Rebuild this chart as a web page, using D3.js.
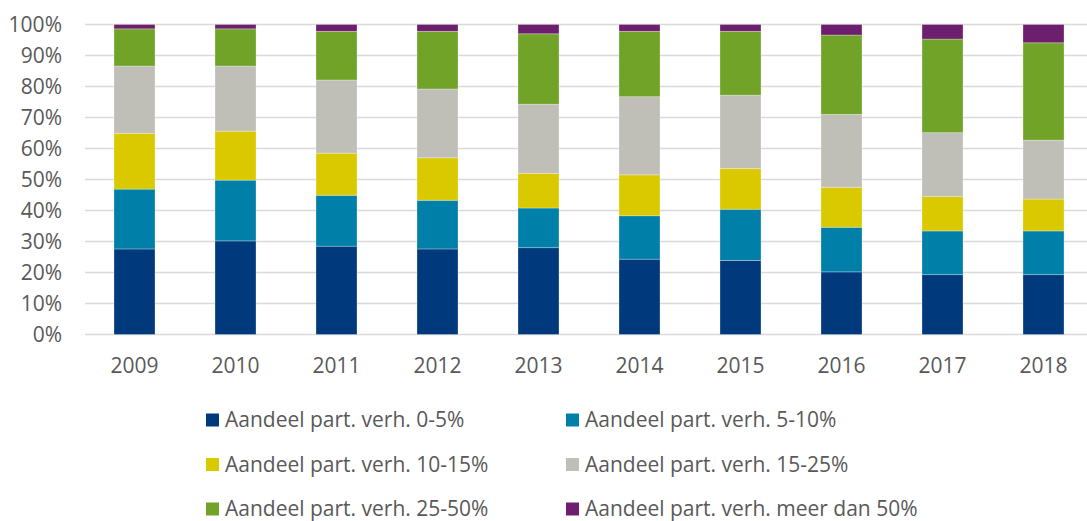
<!DOCTYPE html>
<html>
<head>
<meta charset="utf-8">
<script src="https://cdn.jsdelivr.net/npm/d3@7"></script>
<style>
  body { margin: 0; background: #fff; }
  svg { display: block; font-family: "Open Sans", sans-serif; }
</style>
</head>
<body>
<div id="chart"></div>
<script>
// jaren en reeksen
const years = ["2009", "2010", "2011", "2012", "2013", "2014", "2015", "2016", "2017", "2018"];
const seriesNames = [
  "Aandeel part. verh. 0-5%",
  "Aandeel part. verh. 5-10%",
  "Aandeel part. verh. 10-15%",
  "Aandeel part. verh. 15-25%",
  "Aandeel part. verh. 25-50%",
  "Aandeel part. verh. meer dan 50%"
];
const share0to5   = [27.6, 30.2, 28.5, 27.6, 28.0, 24.3, 23.9, 20.2, 19.3, 19.3];
const share5to10  = [19.3, 19.6, 16.4, 15.7, 12.8, 14.0, 16.5, 14.4, 14.1, 14.1];
const share10to15 = [18.0, 15.8, 13.6, 13.7, 11.2, 13.2, 13.2, 12.9, 11.1, 10.3];
const share15to25 = [21.7, 21.0, 23.6, 22.2, 22.3, 25.2, 23.6, 23.5, 20.6, 19.0];
const share25to50 = [12.0, 12.0, 15.7, 18.6, 22.7, 21.1, 20.6, 25.6, 30.2, 31.4];
const shareOver50 = [1.4, 1.4, 2.2, 2.2, 3.0, 2.2, 2.2, 3.4, 4.7, 5.9];
const yTicks = [0, 10, 20, 30, 40, 50, 60, 70, 80, 90, 100];

const colors = ["#003a7d", "#007fa8", "#dbc900", "#bfbfb8", "#70a328", "#6e1e6f"];

const allSeries = [share0to5, share5to10, share10to15, share15to25, share25to50, shareOver50];
const rows = years.map((y, i) => {
  const r = { year: y };
  seriesNames.forEach((s, k) => r[s] = allSeries[k][i]);
  return r;
});

const width = 1087, height = 521;
const svg = d3.select("#chart").append("svg")
  .attr("width", width).attr("height", height);

const x = d3.scaleBand().domain(years).range([84, 1094]).paddingInner(0.594).paddingOuter(0.297);
const y = d3.scaleLinear().domain([0, 100]).range([334.5, 24.5]);

// rasterlijnen
svg.append("g").selectAll("line").data(yTicks).join("line")
  .attr("x1", 85).attr("x2", width)
  .attr("y1", d => y(d)).attr("y2", d => y(d))
  .attr("stroke", "#d9d9d9").attr("stroke-width", 1.5);

// y-as labels
svg.append("g").selectAll("text").data(yTicks).join("text")
  .attr("x", 62).attr("y", d => y(d)).attr("dy", "0.35em")
  .attr("text-anchor", "end").attr("fill", "#595959").attr("font-size", 21)
  .text(d => d + "%");

// gestapelde kolommen
const stacked = d3.stack().keys(seriesNames)(rows);
svg.append("g").selectAll("g").data(stacked).join("g")
  .attr("fill", (d, i) => colors[i])
  .selectAll("rect").data(d => d).join("rect")
  .attr("x", d => x(d.data.year))
  .attr("width", x.bandwidth())
  .attr("y", d => y(Math.min(d[1], 100)))
  .attr("height", d => y(d[0]) - y(Math.min(d[1], 100)))
  .attr("stroke", "#ffffff").attr("stroke-opacity", 0.35).attr("stroke-width", 0.8);

// x-as labels
svg.append("g").selectAll("text").data(years).join("text")
  .attr("x", d => x(d) + x.bandwidth() / 2).attr("y", 366).attr("dy", "0.35em")
  .attr("text-anchor", "middle").attr("fill", "#595959").attr("font-size", 21)
  .text(d => d);

// legenda
const legend = svg.append("g").selectAll("g").data(seriesNames).join("g")
  .attr("transform", (d, i) => `translate(${i % 2 === 0 ? 206 : 566},${420 + Math.floor(i / 2) * 44.5})`);
legend.append("rect")
  .attr("x", 0).attr("y", -6.5).attr("width", 13).attr("height", 13)
  .attr("fill", (d, i) => colors[i]);
legend.append("text")
  .attr("x", 19).attr("dy", "0.35em")
  .attr("fill", "#595959").attr("font-size", 21)
  .text(d => d);
</script>
</body>
</html>
